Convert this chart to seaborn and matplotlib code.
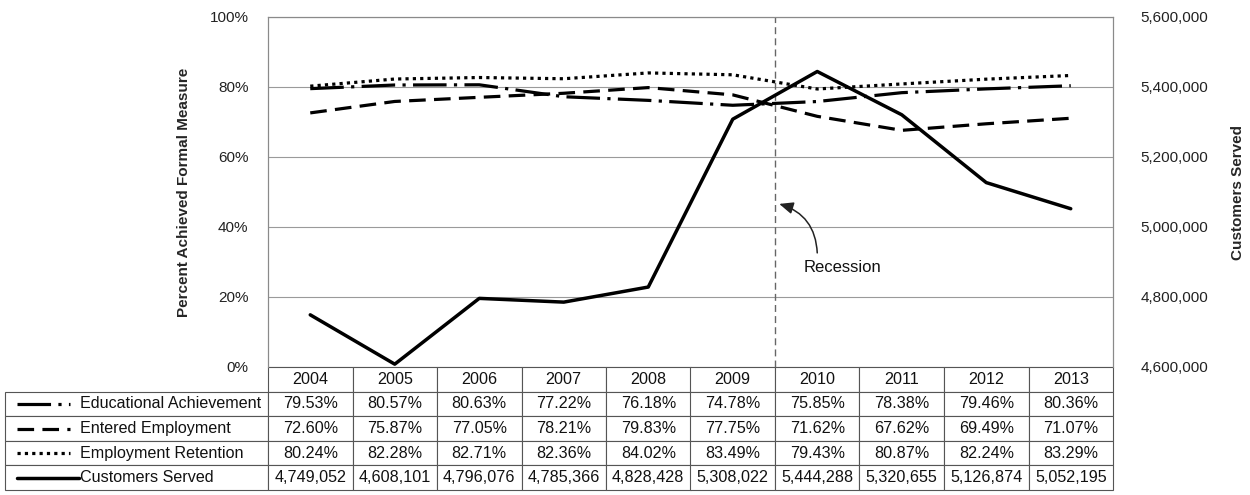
import numpy as np
import pandas as pd
import matplotlib
matplotlib.use("Agg")
import matplotlib.pyplot as plt
from matplotlib.lines import Line2D
from matplotlib.ticker import FuncFormatter, PercentFormatter
import seaborn as sns

years = ["2004", "2005", "2006", "2007", "2008", "2009", "2010", "2011", "2012", "2013"]
educational = [79.53, 80.57, 80.63, 77.22, 76.18, 74.78, 75.85, 78.38, 79.46, 80.36]
entered = [72.60, 75.87, 77.05, 78.21, 79.83, 77.75, 71.62, 67.62, 69.49, 71.07]
retention = [80.24, 82.28, 82.71, 82.36, 84.02, 83.49, 79.43, 80.87, 82.24, 83.29]
customers = [4749052, 4608101, 4796076, 4785366, 4828428, 5308022, 5444288, 5320655, 5126874, 5052195]
series_names = ["Educational Achievement", "Entered Employment", "Employment Retention", "Customers Served"]
left_ticks = [0, 20, 40, 60, 80, 100]
right_ticks = [4600000, 4800000, 5000000, 5200000, 5400000, 5600000]

sns.set_theme(style="white")
plt.rcParams["font.family"] = ["Liberation Sans", "DejaVu Sans"]

W, H = 1250, 495
fig = plt.figure(figsize=(12.5, 4.95), dpi=100)
L, R, T, B = 268, 1113, 17, 367
ax = fig.add_axes([L / W, 1 - B / H, (R - L) / W, (B - T) / H])
ax2 = ax.twinx()

idx = np.arange(len(years))
lw = 2.3
styles = [(0, (10.5, 2.3, 1, 2.3)), (0, (5.2, 2.6)), (0, (1, 1.3)), "-"]

df = pd.DataFrame({"x": idx, "edu": educational, "ent": entered, "ret": retention, "cust": customers})
for col, ls in zip(["edu", "ent", "ret"], styles[:3]):
    sns.lineplot(data=df, x="x", y=col, ax=ax, color="black", linewidth=lw, legend=False)
    ax.lines[-1].set_linestyle(ls)
sns.lineplot(data=df, x="x", y="cust", ax=ax2, color="black", linewidth=2.5, legend=False)

ax.set_xlim(-0.5, len(years) - 0.5)
ax.set_ylim(0, 100)
ax2.set_ylim(4600000, 5600000)
ax.set_yticks(left_ticks)
ax.yaxis.set_major_formatter(PercentFormatter(decimals=0))
ax2.set_yticks(right_ticks)
ax2.yaxis.set_major_formatter(FuncFormatter(lambda v, p: f"{int(v):,}"))
ax.set_xticks([])
ax2.set_xticks([])
ax.set_xlabel("")
ax2.set_xlabel("")
ax.grid(axis="y", color="#9a9a9a", linewidth=0.8)
ax.tick_params(axis="y", length=0, pad=14, labelsize=11, colors="#222222")
ax2.tick_params(axis="y", length=0, pad=20, labelsize=11, colors="#222222")
ax.set_ylabel("Percent Achieved Formal Measure", fontsize=11, fontweight="bold", labelpad=13)
ax2.set_ylabel("Customers Served", fontsize=11, fontweight="bold", labelpad=16)
for a in (ax, ax2):
    for s in a.spines.values():
        s.set_color("#8a8a8a")
        s.set_linewidth(0.8)
    a.spines["bottom"].set_visible(False)

# Recession marker between 2009 and 2010
ax.axvline(5.5, color="#666666", linewidth=1.0, linestyle=(0, (5, 3)))
ax.text(6.3, 28.3, "Recession", fontsize=12, ha="center", va="center", color="#111111")
ax.annotate("", xy=(5.55, 46.6), xytext=(6.0, 32.6),
            arrowprops=dict(arrowstyle="-|>,head_length=0.7,head_width=0.3", color="#222222", lw=1.1,
                            connectionstyle="arc3,rad=0.35", shrinkA=0, shrinkB=0))

# Data table (first column holds the series names)
value_rows = [[f"{v:.2f}%" for v in educational],
              [f"{v:.2f}%" for v in entered],
              [f"{v:.2f}%" for v in retention],
              [f"{v:,}" for v in customers]]
cell_text = [[""] + row for row in value_rows]
tleft = (5 - L) / (R - L)
theight = (490 - B) / (B - T)
tab = ax.table(cellText=cell_text, colLabels=[""] + years, cellLoc="center",
               bbox=[tleft, -theight, 1 - tleft, theight])
tab.auto_set_font_size(False)
tab.set_fontsize(11.6)
for (r, c), cell in tab.get_celld().items():
    cell.set_edgecolor("#555555")
    cell.set_linewidth(0.8)
    cell.set_width((263 if c == 0 else 84.5) / (R - L))
    cell.get_text().set_color("#111111")
    cell.set_clip_on(False)
tab[(0, 0)].set_visible(False)

row_h = theight / 5
for i, (name, ls) in enumerate(zip(series_names, styles)):
    yc = -row_h * (i + 1.5)
    x0 = (17 - L) / (R - L)
    x1 = (70 - L) / (R - L) if i < 3 else (79 - L) / (R - L)
    ax.add_line(Line2D([x0, x1], [yc, yc], transform=ax.transAxes, color="black",
                       linewidth=lw if i < 3 else 2.5, linestyle=ls, clip_on=False))
    ax.text((80 - L) / (R - L), yc, name, transform=ax.transAxes, fontsize=11.6,
            ha="left", va="center", color="#111111")

fig.savefig("out.png", dpi=100, facecolor="white")
